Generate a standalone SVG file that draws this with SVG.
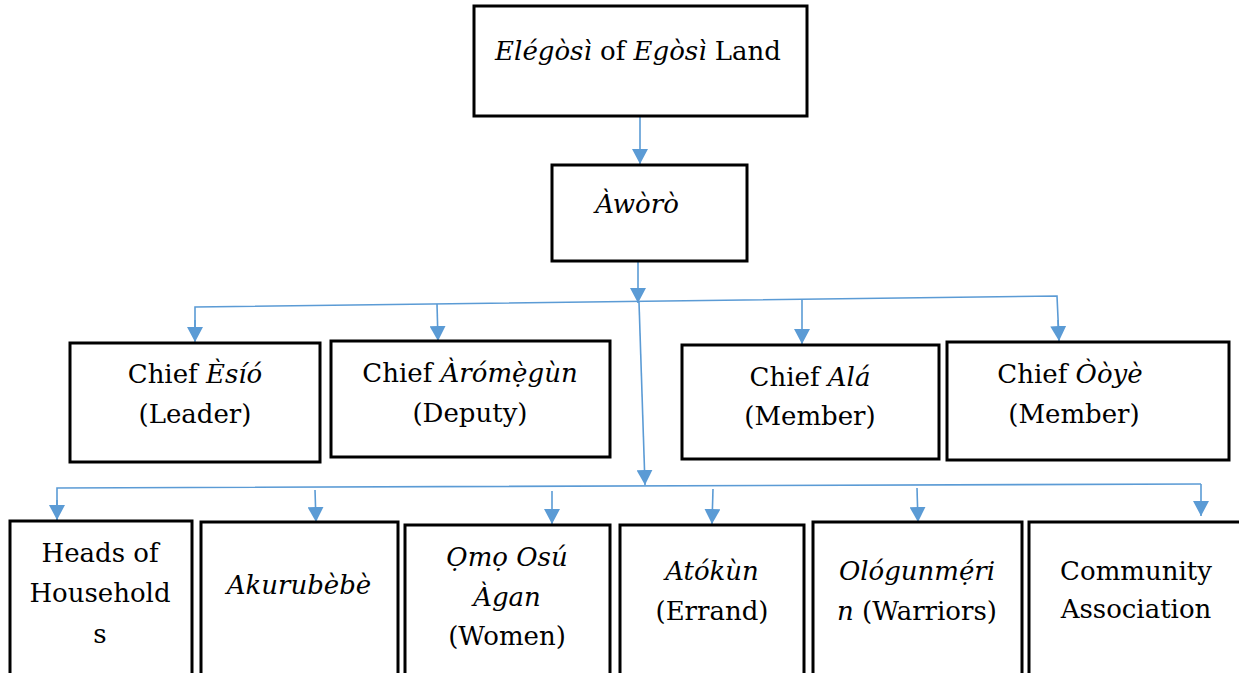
<svg xmlns="http://www.w3.org/2000/svg" width="1239" height="673" viewBox="0 0 1239 673">
<style>
.box{fill:#fff;stroke:#000;stroke-width:3}
.t{font-family:"DejaVu Serif","Liberation Serif",serif;font-size:26px;fill:#000;text-anchor:middle}
.i{font-style:italic}
.c{fill:none;stroke:#5B9BD5;stroke-width:1.6}
</style>
<defs>
<marker id="ah" markerUnits="userSpaceOnUse" markerWidth="16" markerHeight="16" refX="15" refY="8" orient="auto">
<path d="M0,0 L15,8 L0,16 z" fill="#5B9BD5"/>
</marker>
</defs>
<rect width="1239" height="673" fill="#fff"/>
<g id="connectors">
<line class="c" x1="640" y1="117" x2="640" y2="164" marker-end="url(#ah)"/>
<line class="c" x1="638" y1="262" x2="638" y2="303" marker-end="url(#ah)"/>
<polyline class="c" points="195,341 195,307 1057,296 1059,340"/>
<line class="c" x1="195" y1="320" x2="195" y2="342" marker-end="url(#ah)"/>
<line class="c" x1="437" y1="304" x2="438" y2="341" marker-end="url(#ah)"/>
<line class="c" x1="802" y1="300" x2="802" y2="344" marker-end="url(#ah)"/>
<line class="c" x1="1058" y1="320" x2="1059" y2="341" marker-end="url(#ah)"/>
<line class="c" x1="639" y1="302" x2="645" y2="485" marker-end="url(#ah)"/>
<polyline class="c" points="57,520 57,488 1201,484"/>
<line class="c" x1="57" y1="500" x2="57" y2="520" marker-end="url(#ah)"/>
<line class="c" x1="315" y1="490" x2="316" y2="522" marker-end="url(#ah)"/>
<line class="c" x1="552" y1="491" x2="552" y2="524" marker-end="url(#ah)"/>
<line class="c" x1="713" y1="489" x2="712" y2="524" marker-end="url(#ah)"/>
<line class="c" x1="917" y1="488" x2="918" y2="522" marker-end="url(#ah)"/>
<line class="c" x1="1201" y1="484" x2="1201" y2="516" marker-end="url(#ah)"/>
</g>
<g id="elegosi">
<rect class="box" x="474" y="6" width="333" height="110"/>
<text class="t" x="638" y="60"><tspan class="i">Elégòsì</tspan> of <tspan class="i">Egòsì</tspan> Land</text>
</g>
<g id="aworo">
<rect class="box" x="552" y="165" width="195" height="96"/>
<text class="t i" x="637" y="213">Àwòrò</text>
</g>
<g id="esio">
<rect class="box" x="70" y="343" width="250" height="119"/>
<text class="t" x="195" y="383">Chief <tspan class="i">Èsíó</tspan></text>
<text class="t" x="195" y="423">(Leader)</text>
</g>
<g id="aromegun">
<rect class="box" x="331" y="341" width="279" height="116"/>
<text class="t" x="470" y="382">Chief <tspan class="i">Àrómẹ̀gùn</tspan></text>
<text class="t" x="470" y="422">(Deputy)</text>
</g>
<g id="ala">
<rect class="box" x="682" y="345" width="257" height="114"/>
<text class="t" x="810" y="386">Chief <tspan class="i">Alá</tspan></text>
<text class="t" x="810" y="425">(Member)</text>
</g>
<g id="ooye">
<rect class="box" x="947" y="342" width="282" height="118"/>
<text class="t" x="1070" y="383">Chief <tspan class="i">Òòyè</tspan></text>
<text class="t" x="1074" y="423">(Member)</text>
</g>
<g id="heads">
<rect class="box" x="10" y="521" width="182" height="160"/>
<text class="t" x="100" y="562">Heads of</text>
<text class="t" x="100" y="602">Household</text>
<text class="t" x="100" y="643">s</text>
</g>
<g id="akurubebe">
<rect class="box" x="201" y="522" width="197" height="160"/>
<text class="t i" x="299" y="594">Akurubèbè</text>
</g>
<g id="omo">
<rect class="box" x="405" y="525" width="205" height="160"/>
<text class="t i" x="507" y="566">Ọmọ Osú</text>
<text class="t i" x="507" y="606">Àgan</text>
<text class="t" x="507" y="645">(Women)</text>
</g>
<g id="atokun">
<rect class="box" x="620" y="525" width="184" height="160"/>
<text class="t i" x="712" y="580">Atókùn</text>
<text class="t" x="712" y="620">(Errand)</text>
</g>
<g id="ologunmerin">
<rect class="box" x="813" y="522" width="209" height="160"/>
<text class="t i" x="917" y="580">Ológunmẹ́ri</text>
<text class="t" x="917" y="620"><tspan class="i">n</tspan> (Warriors)</text>
</g>
<g id="community">
<rect class="box" x="1029" y="522" width="216" height="160"/>
<text class="t" x="1136" y="580">Community</text>
<text class="t" x="1136" y="618">Association</text>
</g>
</svg>
